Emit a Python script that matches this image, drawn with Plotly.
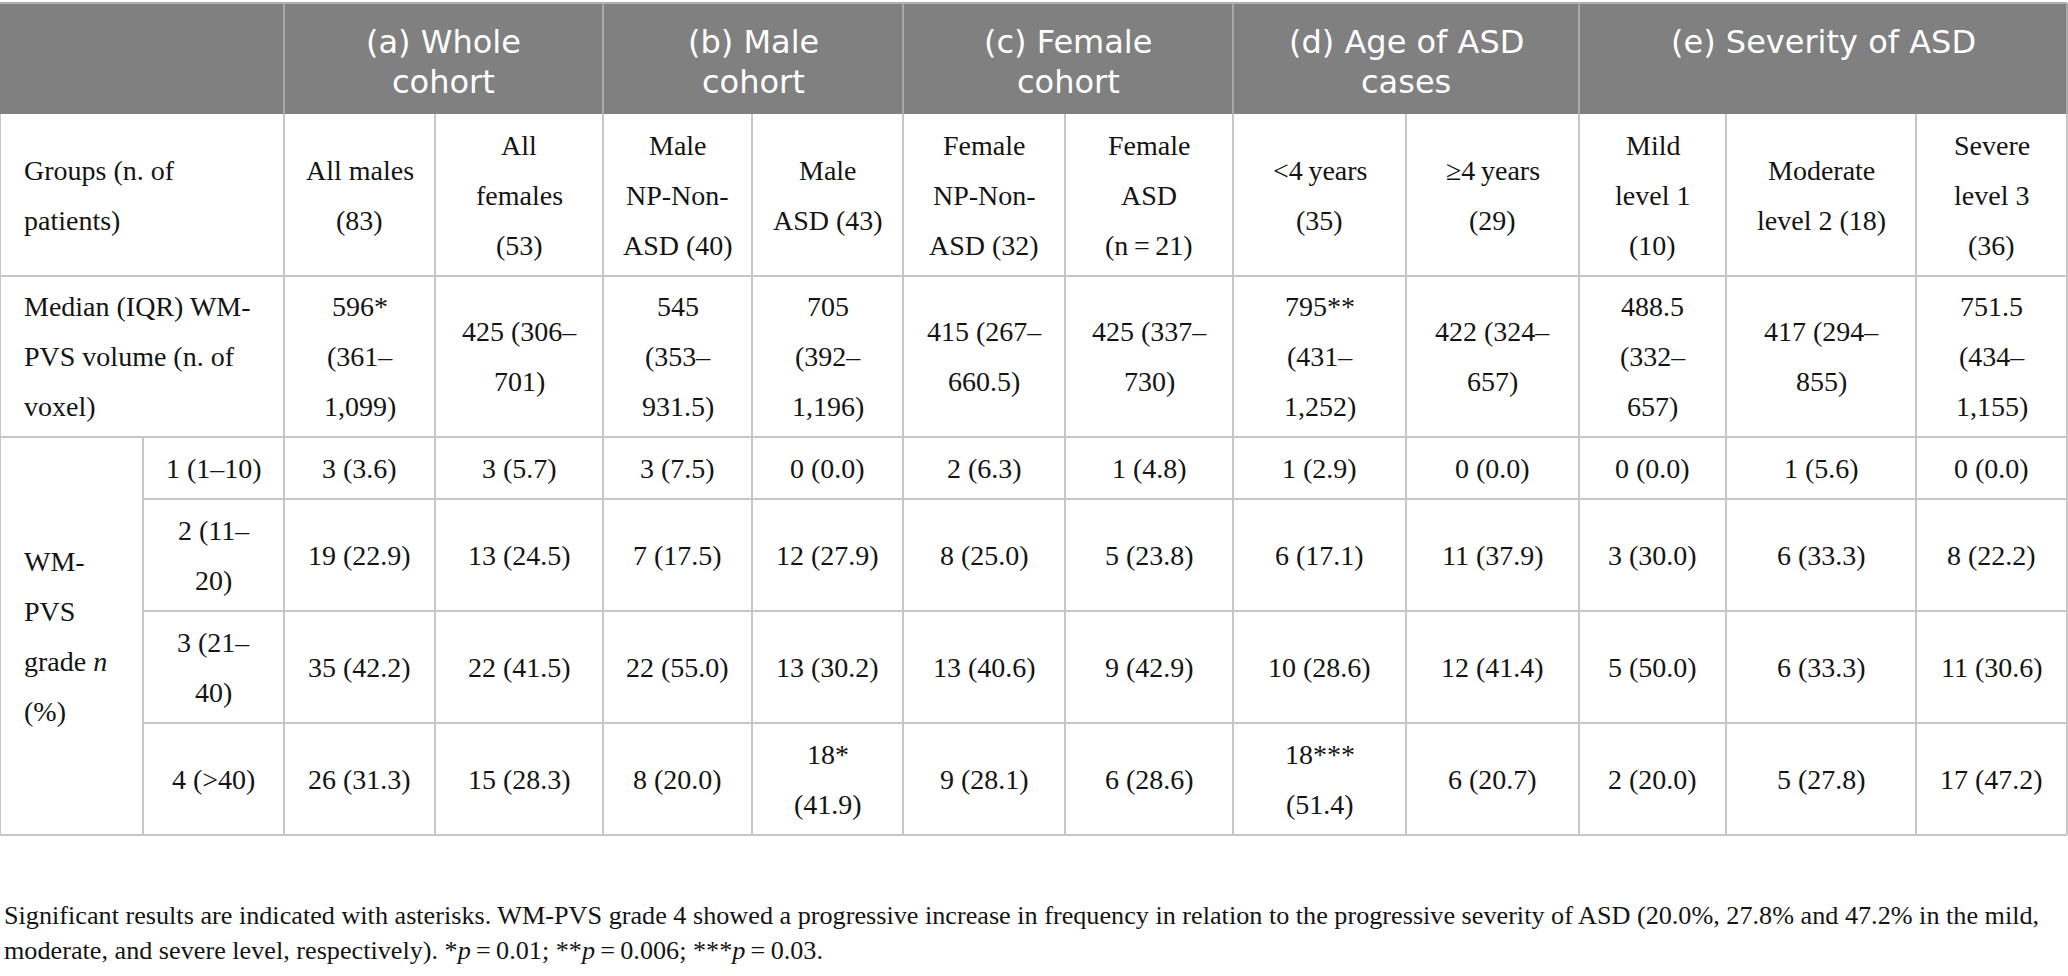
import plotly.graph_objects as go

W, H = 2068, 976

# ---- table content ----
groups = ["(a) Whole\ncohort", "(b) Male\ncohort", "(c) Female\ncohort",
          "(d) Age of ASD\ncases", "(e) Severity of ASD"]
group_span = [2, 2, 2, 2, 3]

row_titles = ["Groups (n. of\npatients)",
              "Median (IQR) WM-\nPVS volume (n. of\nvoxel)"]
grade_title = "WM-\nPVS\ngrade <i>n</i>\n(%)"
grade_labels = ["1 (1–10)", "2 (11–\n20)", "3 (21–\n40)", "4 (&gt;40)"]

subgroups = ["All males\n(83)", "All\nfemales\n(53)", "Male\nNP-Non-\nASD (40)",
             "Male\nASD (43)", "Female\nNP-Non-\nASD (32)", "Female\nASD\n(n\u2009=\u200921)",
             "&lt;4\u2009years\n(35)", "≥4\u2009years\n(29)", "Mild\nlevel 1\n(10)",
             "Moderate\nlevel 2 (18)", "Severe\nlevel 3\n(36)"]
median_iqr = ["596*\n(361–\n1,099)", "425 (306–\n701)", "545\n(353–\n931.5)",
              "705\n(392–\n1,196)", "415 (267–\n660.5)", "425 (337–\n730)",
              "795**\n(431–\n1,252)", "422 (324–\n657)", "488.5\n(332–\n657)",
              "417 (294–\n855)", "751.5\n(434–\n1,155)"]
grade1 = ["3 (3.6)", "3 (5.7)", "3 (7.5)", "0 (0.0)", "2 (6.3)", "1 (4.8)",
          "1 (2.9)", "0 (0.0)", "0 (0.0)", "1 (5.6)", "0 (0.0)"]
grade2 = ["19 (22.9)", "13 (24.5)", "7 (17.5)", "12 (27.9)", "8 (25.0)", "5 (23.8)",
          "6 (17.1)", "11 (37.9)", "3 (30.0)", "6 (33.3)", "8 (22.2)"]
grade3 = ["35 (42.2)", "22 (41.5)", "22 (55.0)", "13 (30.2)", "13 (40.6)", "9 (42.9)",
          "10 (28.6)", "12 (41.4)", "5 (50.0)", "6 (33.3)", "11 (30.6)"]
grade4 = ["26 (31.3)", "15 (28.3)", "8 (20.0)", "18*\n(41.9)", "9 (28.1)", "6 (28.6)",
          "18***\n(51.4)", "6 (20.7)", "2 (20.0)", "5 (27.8)", "17 (47.2)"]

footnote = [
    "Significant results are indicated with asterisks. WM-PVS grade 4 showed a progressive "
    "increase in frequency in relation to the progressive severity of ASD (20.0%, 27.8% and "
    "47.2% in the mild,",
    "moderate, and severe level, respectively). *<i>p</i>\u2009=\u20090.01; "
    "**<i>p</i>\u2009=\u20090.006; ***<i>p</i>\u2009=\u20090.03.",
]

# ---- layout of the grid (pixels) ----
col_x = [0, 143, 284, 435, 603, 752, 903, 1065, 1233, 1406, 1579, 1726, 1916, 2067]
row_y = [3, 114, 276, 437, 499, 611, 723, 835]

HEAD_BG = "#808080"
GRID = "#c6c6c6"
INK = "#141414"
SERIF = "Liberation Serif"
SANS = "DejaVu Sans"

fig = go.Figure()


def put(text, x, y, size=28, family=SERIF, color=INK, step=50, xanchor="center", top=False):
    lines = text.split("\n")
    for i, ln in enumerate(lines):
        if top:
            yy = y + i * step
        else:
            yy = y + (i - (len(lines) - 1) / 2) * step
        fig.add_annotation(x=x, y=yy, text=ln, showarrow=False, xanchor=xanchor,
                           yanchor="middle", xref="x", yref="y",
                           font=dict(size=size, family=family, color=color))


def hline(y, x0, x1, color=GRID, w=2):
    fig.add_shape(type="line", x0=x0, x1=x1, y0=y, y1=y, xref="x", yref="y",
                  line=dict(color=color, width=w))


def vline(x, y0, y1, color=GRID, w=2):
    fig.add_shape(type="line", x0=x, x1=x, y0=y0, y1=y1, xref="x", yref="y",
                  line=dict(color=color, width=w))


# header band
fig.add_shape(type="rect", x0=col_x[0], x1=col_x[-1], y0=row_y[0], y1=row_y[1],
              xref="x", yref="y", fillcolor=HEAD_BG, line=dict(width=0), layer="below")
vline(col_x[2], row_y[0], row_y[1], color="#a8a8a8")
c = 2
for g, span in zip(groups, group_span):
    left, right = col_x[c], col_x[c + span]
    put(g, (left + right) / 2, 42, size=32, family=SANS, color="white", step=40, top=True)
    vline(right, row_y[0], row_y[1], color="#a8a8a8")
    c += span
hline(row_y[0], col_x[0], col_x[-1], color="#b0b0b0")

# grid lines
for k, y in enumerate(row_y[2:], start=2):
    x_start = col_x[1] if 4 <= k <= 6 else col_x[0]
    hline(y, x_start, col_x[-1])
vline(col_x[0], row_y[1], row_y[-1])
vline(col_x[1], row_y[3], row_y[-1])
for x in col_x[2:]:
    vline(x, row_y[1], row_y[-1])

# row titles
for r, title in enumerate(row_titles):
    put(title, 22, (row_y[r + 1] + row_y[r + 2]) / 2, xanchor="left")
put(grade_title, 22, (row_y[3] + row_y[-1]) / 2, xanchor="left")
for r, lab in enumerate(grade_labels):
    put(lab, (col_x[1] + col_x[2]) / 2, (row_y[r + 3] + row_y[r + 4]) / 2)

# body cells
body = [subgroups, median_iqr, grade1, grade2, grade3, grade4]
for r, row in enumerate(body):
    yc = (row_y[r + 1] + row_y[r + 2]) / 2
    for j, cell in enumerate(row):
        put(cell, (col_x[j + 2] + col_x[j + 3]) / 2, yc)

# footnote
for i, ln in enumerate(footnote):
    put(ln, 2, 915 + i * 35, size=26.2, xanchor="left")

fig.update_layout(
    width=W, height=H,
    margin=dict(l=0, r=0, t=0, b=0),
    paper_bgcolor="white", plot_bgcolor="white",
    showlegend=False,
    xaxis=dict(range=[0, W], visible=False, fixedrange=True),
    yaxis=dict(range=[H, 0], visible=False, fixedrange=True),
)

fig.write_html("out.html", config={"displayModeBar": False},
               post_script="document.body.style.margin='0';")
